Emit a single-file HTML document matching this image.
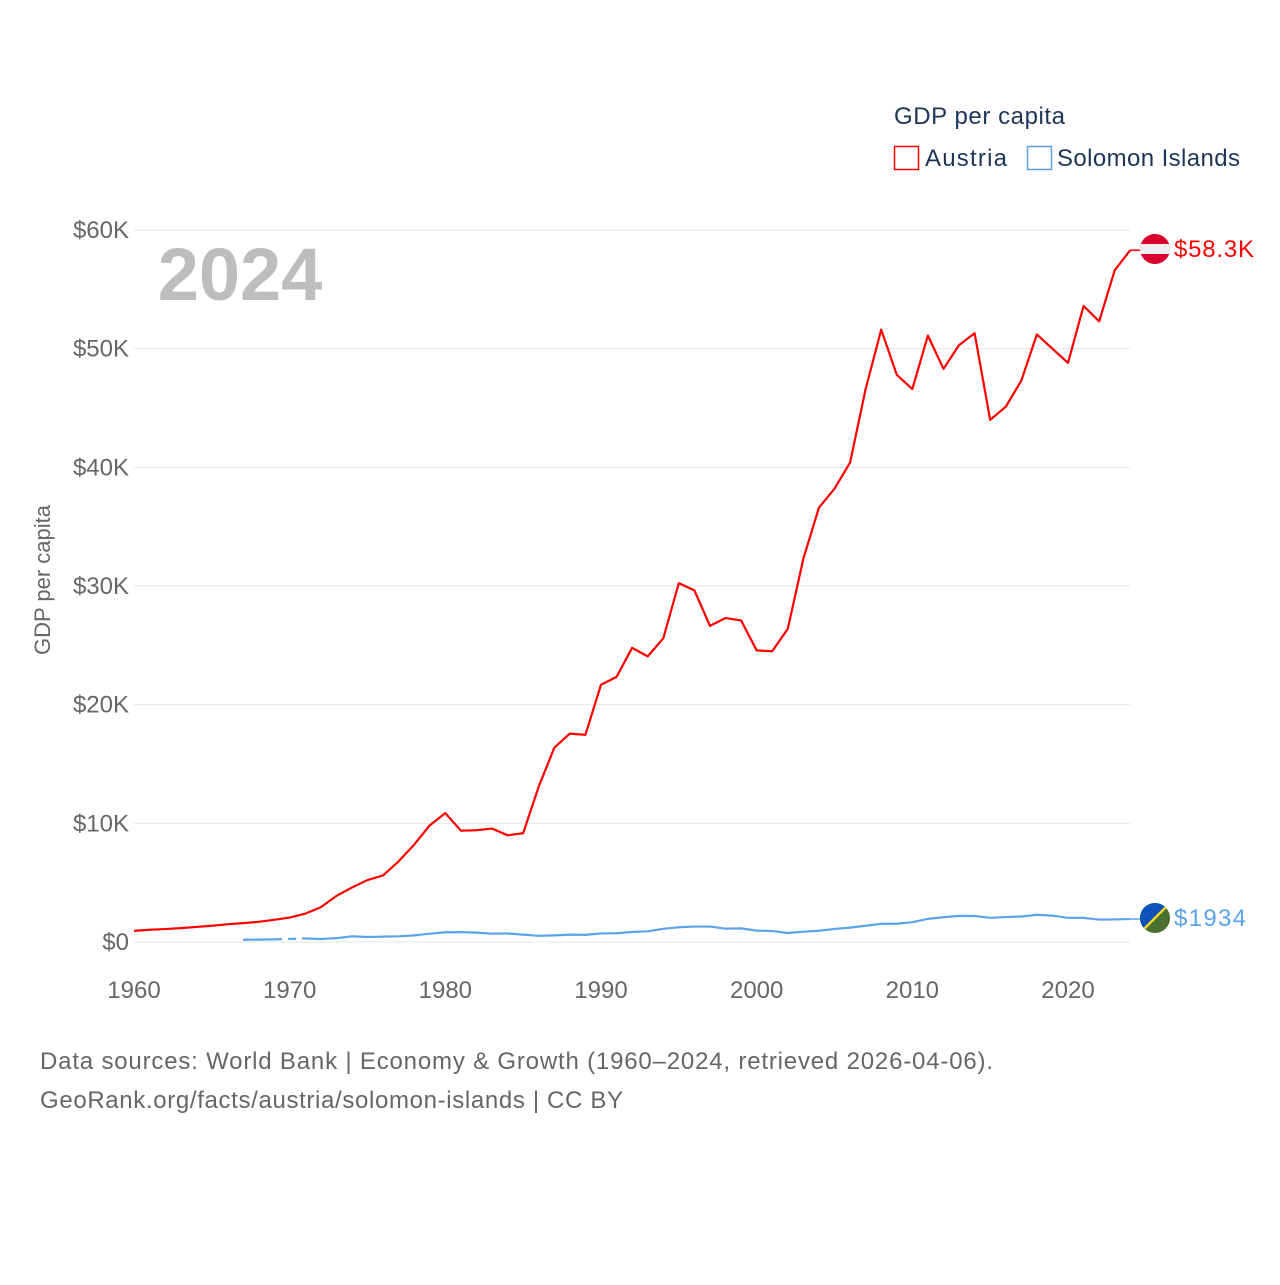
<!DOCTYPE html>
<html><head><meta charset="utf-8"><style>
body{margin:0;background:#fff;width:1280px;height:1280px;overflow:hidden;font-family:"Liberation Sans",sans-serif}
svg text{font-family:"Liberation Sans",sans-serif}
</style></head><body>
<svg id="chart" width="1280" height="1280">
<g id="grid"></g>
<g id="ylab"></g>
<g id="xlab"></g>
<text x="240" y="300" font-size="74" font-weight="bold" fill="#bdbdbd" text-anchor="middle">2024</text>
<text transform="translate(50,580) rotate(-90)" font-size="22" fill="#666" text-anchor="middle">GDP per capita</text>
<g id="series"></g>
<text x="894" y="124" font-size="24" fill="#1d3557" textLength="171">GDP per capita</text>
<g>
<rect x="894.5" y="146.5" width="24" height="23" fill="none" stroke="#f00" stroke-width="1.5"/>
<text x="925" y="166" font-size="24" fill="#1d3557" textLength="82">Austria</text></g>
<g>
<rect x="1027.5" y="146.5" width="24" height="23" fill="none" stroke="#5ba3ea" stroke-width="1.5"/>
<text x="1057" y="166" font-size="24" fill="#1d3557" textLength="183">Solomon Islands</text></g>
<text x="40" y="1069" font-size="24" fill="#666" textLength="953">Data sources: World Bank | Economy &amp; Growth (1960–2024, retrieved 2026-04-06).</text>
<text x="40" y="1108" font-size="24" fill="#666" textLength="583">GeoRank.org/facts/austria/solomon-islands | CC BY</text>
<defs><clipPath id="c1"><circle cx="1155" cy="249" r="15"/></clipPath><clipPath id="c2"><circle cx="1155" cy="918" r="15"/></clipPath></defs>
<g clip-path="url(#c1)">
<rect x="1140" y="234" width="30" height="30" fill="#d8002c"/><rect x="1140" y="244" width="30" height="10" fill="#eee"/></g>
<text x="1174" y="257" font-size="24" fill="#f00" textLength="80">$58.3K</text>
<g clip-path="url(#c2)">
<rect x="1140" y="903" width="30" height="30" fill="#4a7030"/><polygon points="1140,903 1170,903 1140,933" fill="#0a52b8"/>
<line x1="1140" y1="933" x2="1170" y2="903" stroke="#f5d22b" stroke-width="2.5"/></g>
<text x="1174" y="926" font-size="24" fill="#5ba3ea" textLength="72">$1934</text>
</svg>
<script>
const years=[];for(let y=1960;y<=2024;y++)years.push(y);
const austria=[935,1030,1090,1170,1270,1370,1490,1590,1700,1870,2060,2390,2930,3880,4590,5220,5610,6800,8210,9830,10860,9380,9420,9560,8990,9170,13100,16370,17560,17460,21680,22340,24790,24070,25590,30240,29630,26640,27300,27100,24570,24500,26400,32300,36600,38200,40400,46600,51600,47800,46600,51100,48300,50300,51300,44000,45100,47300,51200,50000,48800,53600,52300,56600,58300];
const solomon=[null,null,null,null,null,null,null,190,200,220,null,300,250,320,480,420,450,480,560,700,820,830,790,700,720,620,520,560,620,600,720,740,840,900,1110,1240,1300,1300,1120,1150,960,920,760,870,950,1100,1210,1370,1530,1540,1670,1950,2090,2200,2190,2040,2100,2150,2290,2220,2040,2030,1890,1900,1934];
const yTicks=[0,10000,20000,30000,40000,50000,60000];
const yTickLabels=["$0","$10K","$20K","$30K","$40K","$50K","$60K"];
const xTicks=[1960,1970,1980,1990,2000,2010,2020];
const X=y=>134+(y-1960)*(1068-134)/60;
const Y=v=>942-v*(942-230)/60000;
const NS="http://www.w3.org/2000/svg";
function mk(t,a,p){const e=document.createElementNS(NS,t);for(const k in a)e.setAttribute(k,a[k]);p.appendChild(e);return e;}
const grid=document.getElementById('grid'),yl=document.getElementById('ylab'),xl=document.getElementById('xlab'),ser=document.getElementById('series');
yTicks.forEach((v,i)=>{
 const l=mk('line',{x1:134,x2:1130,y1:Y(v),y2:Y(v),stroke:'#e6e6e6','stroke-width':1},grid);
 
 
 const t=mk('text',{x:129,y:Y(v)+8,'font-size':24,fill:'#666','text-anchor':'end'},yl);t.textContent=yTickLabels[i];
 
 
});
xTicks.forEach(v=>{
 const t=mk('text',{x:X(v),y:998,'font-size':24,fill:'#666','text-anchor':'middle'},xl);t.textContent=v;
 
 
});
function segs(vals){const out=[];let cur=[];vals.forEach((v,i)=>{if(v==null){if(cur.length)out.push(cur);cur=[];}else cur.push([X(years[i]),Y(v)]);});if(cur.length)out.push(cur);return out;}
function draw(vals,color,name){
 const s=segs(vals);
 s.forEach((pts,k)=>{
  const p=mk('polyline',{points:pts.map(q=>q.join(',')).join(' '),fill:'none',stroke:color,'stroke-width':2.2,'stroke-linejoin':'round'},ser);
  
  
  if(k>0){const a=s[k-1][s[k-1].length-1],b=pts[0];
   const d=mk('line',{x1:a[0],y1:a[1],x2:b[0],y2:b[1],stroke:color,'stroke-width':2.2,'stroke-dasharray':'8,6'},ser);
   
   }
 });
 const last=vals[vals.length-1];
 const c=mk('line',{x1:X(2024),y1:Y(last),x2:1140,y2:Y(last),stroke:color,'stroke-width':1.5},ser);
 
 
}
draw(austria,'#ff0000','austria');
draw(solomon,'#5ba3ea','solomon-islands');
</script>
</body></html>
